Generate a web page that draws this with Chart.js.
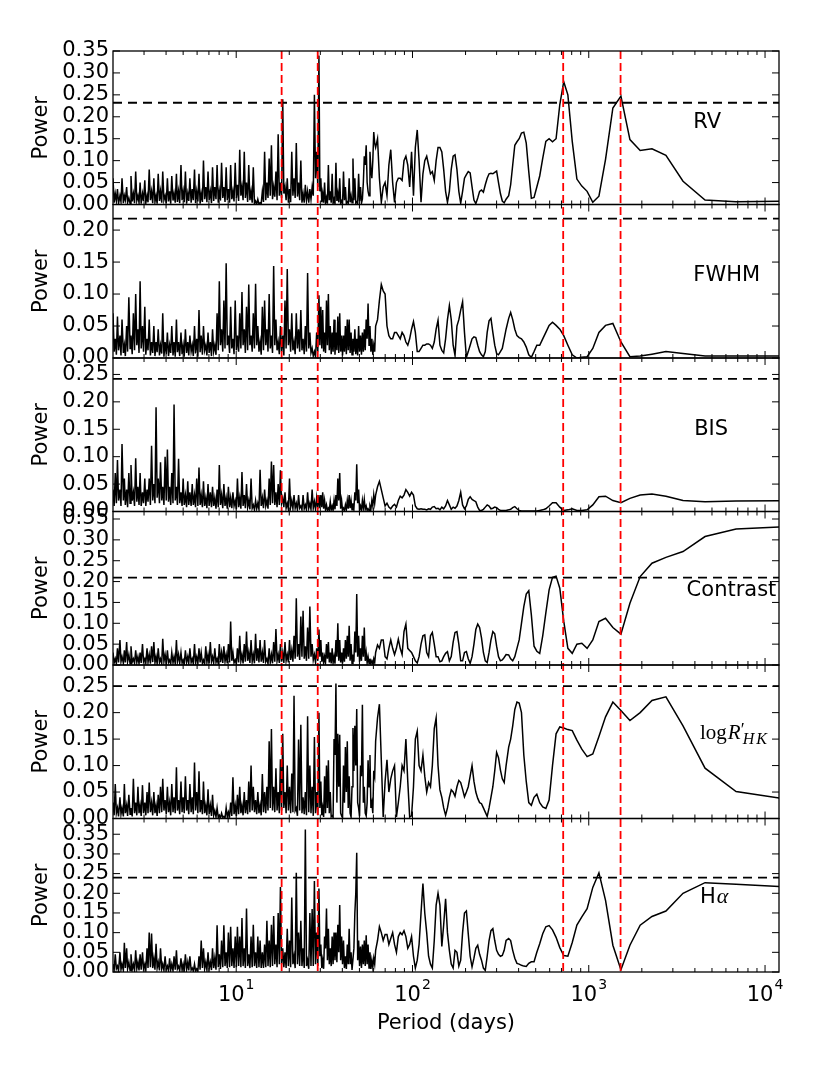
<!doctype html>
<html>
<head>
<meta charset="UTF-8">
<title>Periodograms</title>
<script src="https://cdn.jsdelivr.net/npm/chart.js@4.4.1/dist/chart.umd.min.js"></script>
<style>
  html, body { margin: 0; padding: 0; background: #fff; }
  #wrap { width: 830px; height: 1066px; }
</style>
</head>
<body>
<div id="wrap"><canvas id="pgram" width="830" height="1066"></canvas></div>
<script>
// period grid (days), shared by all six periodograms
const period = [
  2.00,2.03,2.06,2.09,2.12,2.15,2.19,2.22,2.25,2.29,2.32,2.35,2.39,2.42,2.46,2.50,2.53,2.57,2.61,2.65,
  2.69,2.73,2.77,2.81,2.85,2.89,2.94,2.98,3.03,3.07,3.12,3.16,3.21,3.26,3.31,3.36,3.41,3.46,3.51,3.56,
  3.61,3.67,3.72,3.78,3.83,3.89,3.95,4.01,4.07,4.13,4.19,4.25,4.31,4.38,4.44,4.51,4.58,4.64,4.71,4.78,
  4.86,4.93,5.00,5.07,5.15,5.23,5.31,5.38,5.46,5.55,5.63,5.71,5.80,5.88,5.97,6.06,6.15,6.24,6.33,6.43,
  6.52,6.62,6.72,6.82,6.92,7.02,7.13,7.24,7.34,7.45,7.56,7.68,7.79,7.91,8.02,8.14,8.26,8.39,8.51,8.64,
  8.77,8.90,9.03,9.17,9.30,9.44,9.58,9.72,9.87,10.02,10.16,10.32,10.47,10.63,10.78,10.94,11.11,11.27,11.44,11.61,
  11.78,11.96,12.14,12.32,12.50,12.69,12.88,13.07,13.26,13.46,13.66,13.86,14.07,14.28,14.49,14.71,14.93,15.15,15.38,15.60,
  15.84,16.07,16.31,16.55,16.80,17.05,17.30,17.56,17.82,18.09,18.36,18.63,18.91,19.19,19.48,19.77,20.06,20.36,20.66,20.97,
  21.28,21.60,21.92,22.25,22.58,22.91,23.26,23.60,23.95,24.31,24.67,25.04,25.41,25.79,26.17,26.56,26.96,27.36,27.77,28.18,
  28.60,29.03,29.46,
  29.83,30.20,30.58,30.95,31.33,31.72,32.11,32.52,32.92,33.33,33.74,34.16,34.58,35.02,35.45,35.89,36.34,36.79,37.25,37.71,
  38.18,38.65,39.13,39.62,40.11,40.61,41.11,41.63,42.15,42.67,43.20,43.73,44.27,44.83,45.39,45.95,46.52,47.10,47.68,48.27,
  48.87,49.48,50.09,50.72,51.35,51.98,52.63,53.28,53.94,54.62,55.30,55.98,56.68,57.38,58.09,58.82,59.55,60.29,61.04,61.79,
  63.34,64.92,66.55,68.21,69.92,71.66,73.46,75.29,77.17,79.10,81.08,83.11,85.19,87.32,89.50,91.74,94.03,96.38,98.79,101.3,
  103.8,106.4,109.0,111.8,114.6,117.4,120.4,123.4,126.5,129.6,132.9,136.2,139.6,143.1,146.7,150.3,154.1,157.9,161.9,165.9,
  170.1,174.3,178.7,183.2,187.7,192.4,197.2,202.2,207.2,212.4,217.7,223.2,228.7,234.5,240.3,246.3,252.5,258.8,265.3,271.9,
  278.7,285.7,292.8,300.1,307.6,315.3,323.2,331.3,339.6,
  351.3,360.5,370.3,380.6,391.4,402.9,415.2,428.1,441.9,456.7,472.4,489.3,507.4,526.9,548.0,570.8,595.7,622.7,652.4,685.0,
  721.1,761.1,805.9,856.3,913.3,978.6,1054,1142,1245,1370,1522,1712,1957,2283,2740,3425,4567,6850,13700
];

const rv = [
  0.06,0.004,0.025,0.008,0.035,0.002,0.02,0.006,0.06,0.003,0.02,0.01,0.04,0.004,0.015,0.002,0.065,0.007,0.025,0.003,
  0.075,0.009,0.02,0.004,0.05,0.002,0.025,0.008,0.055,0.003,0.02,0.005,0.08,0.01,0.03,0.003,0.06,0.006,0.02,0.002,
  0.07,0.008,0.03,0.004,0.075,0.01,0.02,0.003,0.06,0.007,0.03,0.002,0.065,0.009,0.025,0.004,0.07,0.006,0.03,0.003,
  0.09,0.01,0.03,0.005,0.075,0.002,0.025,0.008,0.06,0.004,0.035,0.01,0.08,0.003,0.03,0.007,0.07,0.002,0.025,0.006,
  0.1,0.012,0.04,0.005,0.075,0.01,0.03,0.003,0.085,0.008,0.04,0.012,0.09,0.004,0.03,0.009,0.095,0.015,0.04,0.006,
  0.085,0.01,0.035,0.004,0.09,0.012,0.03,0.007,0.095,0.015,0.045,0.008,0.125,0.02,0.04,0.01,0.12,0.015,0.05,0.006,
  0.09,0.01,0.03,0.004,0.085,0.002,0.008,0.001,0.012,0.001,0.004,0.002,0.03,0.006,0.12,0.01,0.05,0.015,0.105,0.02,
  0.135,0.012,0.04,0.018,0.075,0.01,0.16,0.02,0.05,0.015,0.24,0.025,0.04,0.01,0.06,0.004,0.035,0.005,0.12,0.02,
  0.06,0.015,0.14,0.018,0.05,0.01,0.1,0.004,0.025,0.004,0.045,0.01,0.03,0.004,0.035,0.012,0.04,0.02,0.25,0.06,
  0.12,0.04,0.34,
  0.03,0.06,0.005,0.025,0.004,0.05,0.003,0.015,0.002,0.09,0.01,0.03,0.004,0.07,0.003,0.012,0.002,0.095,0.008,0.025,
  0.005,0.06,0.002,0.008,0.003,0.075,0.01,0.04,0.002,0.006,0.003,0.06,0.005,0.02,0.004,0.105,0.01,0.06,0.003,0.006,
  0.002,0.07,0.008,0.04,0.003,0.012,0.05,0.11,0.09,0.135,0.05,0.03,0.02,0.12,0.08,0.06,0.1,0.165,0.14,0.13,
  0.15,0.06,0.005,0.04,0.05,0.02,0.09,0.125,0.05,0.005,0.05,0.06,0.06,0.055,0.1,0.11,0.09,0.04,0.12,0.02,
  0.13,0.17,0.1,0.005,0.07,0.1,0.11,0.09,0.07,0.075,0.055,0.1,0.13,0.13,0.12,0.08,0.03,0.005,0.03,0.08,
  0.11,0.113,0.08,0.03,0.003,0.03,0.06,0.068,0.075,0.072,0.04,0.01,0.002,0.015,0.03,0.033,0.028,0.045,0.06,0.07,
  0.071,0.07,0.073,0.076,0.05,0.025,0.008,0.004,0.012,
  0.02,0.045,0.09,0.135,0.143,0.15,0.163,0.165,0.14,0.075,0.014,0.016,0.04,0.065,0.105,0.144,0.15,0.143,0.15,0.228,
  0.28,0.25,0.144,0.058,0.042,0.03,0.005,0.019,0.103,0.22,0.247,0.148,0.123,0.127,0.112,0.053,0.01,0.006,0.008
];

const fwhm = [
  0.07,0.01,0.03,0.005,0.065,0.012,0.035,0.004,0.06,0.008,0.02,0.003,0.05,0.01,0.095,0.015,0.035,0.006,0.07,0.012,
  0.1,0.02,0.045,0.008,0.12,0.015,0.05,0.01,0.08,0.005,0.03,0.012,0.06,0.004,0.025,0.008,0.05,0.003,0.025,0.009,
  0.045,0.004,0.02,0.007,0.07,0.002,0.025,0.006,0.04,0.003,0.02,0.008,0.05,0.004,0.025,0.002,0.06,0.009,0.025,0.003,
  0.04,0.006,0.02,0.002,0.045,0.008,0.025,0.004,0.035,0.01,0.02,0.003,0.05,0.007,0.03,0.002,0.075,0.009,0.035,0.005,
  0.05,0.012,0.02,0.004,0.04,0.008,0.025,0.003,0.045,0.01,0.02,0.005,0.07,0.012,0.12,0.02,0.045,0.01,0.09,0.015,
  0.148,0.02,0.035,0.008,0.08,0.015,0.03,0.006,0.09,0.012,0.035,0.01,0.07,0.015,0.103,0.02,0.045,0.008,0.08,0.012,
  0.115,0.02,0.035,0.01,0.07,0.015,0.116,0.02,0.05,0.01,0.025,0.005,0.08,0.012,0.09,0.02,0.045,0.01,0.1,0.015,
  0.035,0.008,0.144,0.02,0.06,0.012,0.025,0.006,0.05,0.01,0.035,0.004,0.09,0.015,0.139,0.02,0.045,0.01,0.07,0.012,
  0.025,0.006,0.07,0.015,0.045,0.01,0.075,0.012,0.03,0.006,0.05,0.01,0.133,0.015,0.04,0.008,0.015,0.003,0.01,0.002,
  0.04,0.01,0.098,
  0.02,0.08,0.015,0.075,0.01,0.04,0.008,0.09,0.02,0.1,0.012,0.05,0.006,0.04,0.01,0.06,0.005,0.04,0.012,0.065,
  0.008,0.07,0.01,0.035,0.004,0.035,0.01,0.05,0.006,0.06,0.012,0.06,0.008,0.04,0.005,0.03,0.01,0.045,0.006,0.03,
  0.004,0.05,0.01,0.035,0.005,0.04,0.01,0.045,0.012,0.06,0.03,0.085,0.02,0.05,0.01,0.03,0.005,0.02,0.01,0.05,
  0.06,0.09,0.115,0.105,0.1,0.05,0.035,0.03,0.03,0.04,0.04,0.035,0.03,0.04,0.035,0.025,0.02,0.03,0.045,0.057,
  0.04,0.01,0.01,0.015,0.02,0.02,0.022,0.022,0.02,0.015,0.025,0.045,0.059,0.02,0.012,0.008,0.03,0.06,0.082,0.06,
  0.02,0.004,0.05,0.06,0.075,0.088,0.04,0.001,0.01,0.02,0.03,0.033,0.032,0.02,0.01,0.005,0.002,0.01,0.04,0.058,
  0.062,0.04,0.02,0.007,0.005,0.01,0.015,0.03,0.045,
  0.062,0.071,0.06,0.045,0.035,0.032,0.03,0.025,0.017,0.005,0.001,0.01,0.02,0.02,0.03,0.04,0.051,0.056,0.051,0.045,
  0.035,0.02,0.005,0.0,0.001,0.002,0.015,0.04,0.051,0.054,0.025,0.002,0.003,0.006,0.01,0.007,0.003,0.003,0.003
];

const bis = [
  0.04,0.01,0.07,0.015,0.094,0.02,0.04,0.01,0.123,0.02,0.06,0.012,0.04,0.008,0.07,0.015,0.085,0.02,0.035,0.01,
  0.097,0.018,0.045,0.012,0.07,0.01,0.035,0.015,0.06,0.01,0.04,0.018,0.06,0.012,0.12,0.02,0.05,0.015,0.19,0.025,
  0.06,0.015,0.09,0.02,0.045,0.012,0.1,0.02,0.113,0.018,0.045,0.012,0.07,0.015,0.195,0.02,0.045,0.012,0.096,0.015,
  0.035,0.01,0.06,0.012,0.03,0.008,0.055,0.012,0.035,0.01,0.05,0.012,0.03,0.008,0.06,0.01,0.08,0.012,0.03,0.008,
  0.055,0.01,0.025,0.006,0.05,0.01,0.035,0.008,0.045,0.01,0.025,0.005,0.04,0.008,0.085,0.012,0.03,0.006,0.05,0.01,
  0.025,0.005,0.045,0.008,0.025,0.006,0.035,0.01,0.02,0.004,0.06,0.008,0.025,0.005,0.072,0.01,0.03,0.006,0.05,0.008,
  0.02,0.004,0.06,0.006,0.012,0.003,0.02,0.005,0.015,0.004,0.076,0.01,0.025,0.006,0.04,0.01,0.02,0.005,0.06,0.012,
  0.091,0.015,0.085,0.012,0.035,0.008,0.05,0.012,0.075,0.015,0.025,0.008,0.035,0.006,0.015,0.004,0.06,0.008,0.02,0.005,
  0.03,0.006,0.015,0.003,0.03,0.006,0.01,0.003,0.03,0.005,0.012,0.003,0.035,0.006,0.015,0.004,0.04,0.006,0.018,0.004,
  0.025,0.005,0.03,
  0.006,0.03,0.008,0.035,0.005,0.02,0.003,0.012,0.002,0.006,0.002,0.018,0.003,0.01,0.002,0.02,0.004,0.03,0.01,0.06,
  0.02,0.07,0.005,0.02,0.002,0.006,0.002,0.012,0.003,0.02,0.005,0.03,0.006,0.02,0.003,0.015,0.005,0.035,0.02,0.086,
  0.015,0.04,0.003,0.01,0.002,0.02,0.006,0.022,0.004,0.01,0.002,0.005,0.002,0.01,0.004,0.02,0.01,0.03,0.015,0.03,
  0.045,0.055,0.04,0.025,0.01,0.015,0.008,0.005,0.01,0.013,0.008,0.02,0.028,0.025,0.03,0.04,0.035,0.028,0.035,0.03,
  0.01,0.005,0.004,0.005,0.004,0.004,0.003,0.005,0.004,0.008,0.009,0.005,0.006,0.003,0.008,0.005,0.01,0.02,0.012,0.004,
  0.008,0.006,0.01,0.02,0.035,0.012,0.005,0.01,0.022,0.027,0.022,0.02,0.018,0.008,0.002,0.002,0.004,0.008,0.012,0.01,
  0.005,0.006,0.008,0.007,0.004,0.002,0.002,0.002,0.002,
  0.003,0.004,0.007,0.009,0.005,0.002,0.001,0.001,0.001,0.001,0.001,0.001,0.001,0.002,0.003,0.005,0.01,0.016,0.016,0.008,
  0.002,0.003,0.005,0.002,0.002,0.003,0.012,0.027,0.028,0.02,0.016,0.024,0.03,0.032,0.028,0.02,0.018,0.019,0.02
];

const contrast = [
  0.03,0.005,0.015,0.003,0.04,0.006,0.06,0.008,0.02,0.004,0.035,0.006,0.055,0.008,0.025,0.003,0.045,0.007,0.015,0.004,
  0.035,0.006,0.02,0.003,0.03,0.005,0.05,0.008,0.015,0.004,0.04,0.006,0.025,0.003,0.045,0.007,0.055,0.005,0.02,0.003,
  0.04,0.006,0.015,0.004,0.063,0.008,0.025,0.004,0.035,0.006,0.012,0.002,0.03,0.005,0.02,0.003,0.06,0.008,0.025,0.004,
  0.03,0.005,0.012,0.002,0.035,0.006,0.02,0.004,0.04,0.006,0.015,0.003,0.05,0.007,0.02,0.004,0.04,0.006,0.03,0.004,
  0.012,0.002,0.045,0.006,0.025,0.004,0.055,0.008,0.02,0.004,0.04,0.006,0.015,0.003,0.05,0.007,0.03,0.005,0.045,0.008,
  0.025,0.004,0.05,0.006,0.104,0.01,0.03,0.005,0.012,0.003,0.04,0.006,0.07,0.01,0.025,0.004,0.05,0.008,0.08,0.01,
  0.03,0.005,0.06,0.008,0.025,0.004,0.075,0.01,0.04,0.006,0.06,0.008,0.03,0.005,0.06,0.008,0.015,0.003,0.04,0.006,
  0.025,0.004,0.055,0.008,0.086,0.01,0.025,0.005,0.05,0.008,0.03,0.005,0.055,0.01,0.025,0.006,0.06,0.012,0.035,0.008,
  0.07,0.015,0.16,0.02,0.05,0.012,0.116,0.02,0.13,0.015,0.045,0.01,0.09,0.015,0.14,0.02,0.05,0.012,0.025,0.006,
  0.04,0.01,0.085,
  0.02,0.06,0.008,0.03,0.004,0.02,0.006,0.05,0.015,0.055,0.006,0.03,0.004,0.04,0.005,0.02,0.003,0.06,0.02,0.1,
  0.01,0.06,0.006,0.03,0.004,0.04,0.008,0.06,0.015,0.07,0.02,0.094,0.01,0.05,0.004,0.025,0.008,0.08,0.03,0.17,
  0.02,0.07,0.008,0.04,0.01,0.07,0.02,0.09,0.01,0.03,0.005,0.02,0.004,0.015,0.003,0.01,0.003,0.015,0.006,0.03,
  0.048,0.04,0.06,0.06,0.02,0.015,0.04,0.06,0.04,0.025,0.04,0.062,0.04,0.025,0.08,0.098,0.04,0.035,0.03,0.02,
  0.01,0.005,0.02,0.05,0.07,0.072,0.03,0.02,0.07,0.078,0.05,0.02,0.02,0.008,0.01,0.02,0.028,0.032,0.01,0.02,
  0.055,0.078,0.08,0.05,0.01,0.01,0.03,0.032,0.015,0.004,0.02,0.05,0.085,0.098,0.09,0.065,0.03,0.01,0.006,0.03,
  0.06,0.08,0.075,0.045,0.02,0.01,0.012,0.018,0.025,
  0.024,0.015,0.01,0.02,0.04,0.06,0.1,0.14,0.17,0.178,0.12,0.045,0.033,0.028,0.07,0.125,0.18,0.21,0.213,0.184,
  0.105,0.04,0.028,0.05,0.052,0.04,0.06,0.104,0.112,0.09,0.074,0.148,0.212,0.244,0.258,0.272,0.308,0.326,0.332
];

const rhk = [
  0.03,0.006,0.065,0.01,0.02,0.004,0.04,0.008,0.02,0.004,0.065,0.01,0.025,0.005,0.045,0.008,0.02,0.004,0.075,0.01,
  0.03,0.006,0.06,0.01,0.025,0.005,0.063,0.01,0.03,0.006,0.05,0.01,0.068,0.012,0.03,0.006,0.05,0.01,0.025,0.005,
  0.045,0.01,0.06,0.012,0.075,0.015,0.035,0.008,0.06,0.012,0.03,0.006,0.065,0.012,0.04,0.01,0.097,0.015,0.035,0.008,
  0.07,0.012,0.04,0.01,0.08,0.015,0.035,0.008,0.065,0.012,0.04,0.008,0.106,0.015,0.05,0.01,0.089,0.012,0.035,0.008,
  0.07,0.01,0.025,0.006,0.055,0.008,0.025,0.005,0.045,0.006,0.015,0.003,0.02,0.002,0.006,0.001,0.01,0.002,0.004,0.001,
  0.02,0.003,0.012,0.004,0.03,0.005,0.078,0.008,0.025,0.005,0.045,0.008,0.06,0.01,0.025,0.006,0.05,0.01,0.035,0.008,
  0.07,0.012,0.1,0.015,0.06,0.012,0.035,0.008,0.05,0.01,0.025,0.006,0.084,0.012,0.05,0.01,0.06,0.015,0.146,0.02,
  0.169,0.015,0.06,0.012,0.095,0.015,0.05,0.01,0.112,0.015,0.16,0.02,0.05,0.01,0.1,0.015,0.06,0.01,0.085,0.012,
  0.232,0.015,0.02,0.005,0.149,0.015,0.177,0.01,0.04,0.008,0.05,0.006,0.193,0.012,0.1,0.01,0.06,0.005,0.154,0.01,
  0.05,0.006,0.2,
  0.02,0.07,0.006,0.02,0.003,0.08,0.01,0.1,0.02,0.11,0.01,0.05,0.003,0.005,0.002,0.15,0.12,0.255,0.03,0.16,
  0.06,0.158,0.01,0.005,0.002,0.1,0.03,0.135,0.05,0.146,0.02,0.08,0.01,0.003,0.06,0.171,0.09,0.175,0.1,0.207,
  0.03,0.02,0.004,0.1,0.08,0.215,0.03,0.06,0.01,0.005,0.03,0.11,0.06,0.12,0.02,0.03,0.01,0.09,0.08,0.146,
  0.19,0.216,0.11,0.003,0.07,0.111,0.05,0.075,0.09,0.1,0.003,0.03,0.06,0.1,0.09,0.15,0.07,0.003,0.005,0.06,
  0.15,0.165,0.1,0.09,0.12,0.08,0.05,0.068,0.06,0.1,0.17,0.19,0.1,0.054,0.04,0.02,0.006,0.02,0.04,0.054,
  0.05,0.042,0.06,0.072,0.068,0.055,0.041,0.05,0.06,0.08,0.1,0.07,0.05,0.038,0.03,0.028,0.02,0.012,0.004,0.02,
  0.04,0.06,0.09,0.125,0.115,0.092,0.075,0.068,0.1,
  0.135,0.15,0.175,0.206,0.22,0.218,0.2,0.12,0.07,0.03,0.025,0.04,0.046,0.03,0.022,0.019,0.035,0.1,0.16,0.173,
  0.171,0.168,0.166,0.148,0.131,0.117,0.122,0.155,0.192,0.22,0.204,0.185,0.2,0.223,0.23,0.175,0.095,0.051,0.036
];

const halpha = [
  0.02,0.004,0.045,0.008,0.015,0.003,0.05,0.006,0.02,0.004,0.074,0.01,0.06,0.008,0.025,0.004,0.045,0.006,0.02,0.003,
  0.055,0.008,0.025,0.004,0.045,0.006,0.05,0.008,0.02,0.004,0.06,0.01,0.1,0.012,0.098,0.01,0.035,0.006,0.072,0.01,
  0.025,0.004,0.06,0.008,0.02,0.004,0.04,0.006,0.015,0.003,0.035,0.005,0.02,0.003,0.04,0.006,0.055,0.008,0.015,0.003,
  0.035,0.005,0.02,0.003,0.045,0.006,0.025,0.004,0.04,0.005,0.01,0.002,0.02,0.003,0.008,0.002,0.04,0.006,0.08,0.01,
  0.06,0.008,0.025,0.005,0.05,0.008,0.025,0.005,0.06,0.01,0.035,0.006,0.119,0.012,0.045,0.008,0.08,0.012,0.119,0.015,
  0.05,0.01,0.1,0.012,0.115,0.015,0.06,0.01,0.09,0.012,0.115,0.015,0.09,0.012,0.137,0.015,0.06,0.01,0.161,0.015,
  0.045,0.01,0.09,0.012,0.12,0.015,0.05,0.01,0.09,0.012,0.08,0.01,0.05,0.01,0.07,0.012,0.13,0.015,0.08,0.012,
  0.12,0.015,0.142,0.02,0.07,0.012,0.15,0.02,0.216,0.02,0.06,0.012,0.05,0.01,0.11,0.015,0.08,0.012,0.189,0.02,
  0.04,0.01,0.252,0.02,0.1,0.015,0.13,0.015,0.06,0.01,0.362,0.015,0.03,0.008,0.15,0.015,0.16,0.015,0.231,0.02,
  0.1,0.015,0.212,
  0.04,0.07,0.01,0.03,0.008,0.09,0.06,0.161,0.03,0.11,0.02,0.06,0.015,0.09,0.02,0.1,0.03,0.1,0.025,0.12,
  0.05,0.17,0.03,0.09,0.02,0.08,0.01,0.04,0.008,0.07,0.02,0.11,0.02,0.05,0.005,0.005,0.06,0.15,0.2,0.303,
  0.03,0.08,0.015,0.065,0.01,0.07,0.02,0.08,0.015,0.093,0.02,0.07,0.01,0.05,0.008,0.03,0.012,0.035,0.02,0.055,
  0.08,0.115,0.1,0.08,0.095,0.095,0.07,0.085,0.1,0.07,0.05,0.09,0.1,0.095,0.105,0.09,0.06,0.07,0.09,0.04,
  0.01,0.03,0.07,0.15,0.225,0.15,0.1,0.04,0.02,0.01,0.08,0.17,0.2,0.17,0.065,0.12,0.186,0.1,0.055,0.02,
  0.01,0.055,0.05,0.015,0.03,0.1,0.15,0.155,0.097,0.04,0.013,0.035,0.06,0.068,0.045,0.03,0.01,0.004,0.04,0.08,
  0.105,0.11,0.08,0.055,0.045,0.04,0.042,0.055,0.08,
  0.085,0.08,0.055,0.035,0.022,0.02,0.017,0.015,0.014,0.022,0.026,0.026,0.05,0.072,0.097,0.115,0.118,0.107,0.088,0.062,
  0.042,0.04,0.075,0.119,0.14,0.161,0.215,0.252,0.182,0.068,0.006,0.068,0.119,0.141,0.155,0.2,0.227,0.223,0.216
];

const series = [rv, fwhm, bis, contrast, rhk, halpha];
const powerMax = [0.35, 0.24, 0.28, 0.368, 0.29, 0.39];
const fapLevel = [0.232, 0.218, 0.242, 0.2095, 0.25, 0.24];
const powerTicks = [0, 0.05, 0.10, 0.15, 0.20, 0.25, 0.30, 0.35];
const xTicks = [10, 100, 1000, 10000];
const markPeriods = [18.1, 29.0, 716, 1515];
const periodMin = 2, periodMax = 12000;
// label anchor [period, power]: left edge and text baseline inside each panel
const labelPos = [[3920, 0.174], [3920, 0.12], [3960, 0.139], [3590, 0.166], [4275, 0.150], [4275, 0.1754]];

const FONT = '"DejaVu Sans"';
const SERIF = '"Liberation Serif"';

const datasets = [];
series.forEach(function(s, p){
  datasets.push({
    data: period.map(function(x, i){ return {x: x, y: s[i]}; }),
    yAxisID: 'y' + p,
    borderColor: '#000', borderWidth: 1.5,
    pointRadius: 0, tension: 0, fill: false
  });
  datasets.push({
    data: [{x: periodMin, y: fapLevel[p]}, {x: periodMax, y: fapLevel[p]}],
    yAxisID: 'y' + p,
    borderColor: '#000', borderWidth: 1.8, borderDash: [9, 6],
    pointRadius: 0, fill: false
  });
});

const scales = {
  x: {
    type: 'logarithmic', position: 'bottom', min: periodMin, max: periodMax,
    afterBuildTicks: function(s){ s.ticks = xTicks.map(function(v){ return {value: v}; }); },
    afterFit: function(s){ s.height = 66; },
    grid: {display: false, drawTicks: false}, border: {display: false},
    ticks: {display: false},
    title: {display: true, text: 'Period (days)', color: '#000', font: {family: 'DejaVu Sans', size: 21}, padding: {top: 0, bottom: 2}}
  }
};
// stacked axes are laid out last-first, so add the bottom panel first
for (let p = powerMax.length - 1; p >= 0; p--) {
  const m = powerMax[p];
  scales['y' + p] = {
    type: 'linear', position: 'left', stack: 'panels', stackWeight: 1,
    min: 0, max: m,
    afterBuildTicks: function(s){
      s.ticks = powerTicks.filter(function(v){ return v <= m + 1e-9; }).map(function(v){ return {value: v}; });
    },
    afterFit: function(s){ s.width = 87; },
    grid: {display: false, drawTicks: false}, border: {display: false},
    ticks: {
      autoSkip: false, padding: 4, color: '#000', font: {family: 'DejaVu Sans', size: 21},
      callback: function(v){ return v.toFixed(2); }
    },
    title: {display: true, text: 'Power', color: '#000', font: {family: 'DejaVu Sans', size: 21}, padding: {top: 3, bottom: 0}}
  };
}

// frames, inward ticks, red period markers, panel and decade labels
const decorations = {
  id: 'decorations',
  afterDatasetsDraw: function(chart){
    const ctx = chart.ctx, xs = chart.scales.x, area = chart.chartArea;
    ctx.save();

    // red dashed markers
    ctx.strokeStyle = '#ff0000'; ctx.lineWidth = 1.8; ctx.setLineDash([8, 4]);
    markPeriods.forEach(function(pd){
      const px = xs.getPixelForValue(pd);
      ctx.beginPath(); ctx.moveTo(px, area.top); ctx.lineTo(px, area.bottom); ctx.stroke();
    });
    ctx.setLineDash([]);

    const minor = [];
    for (let e = 0; e <= 4; e++) {
      for (let m = 2; m <= 9; m++) {
        const v = m * Math.pow(10, e);
        if (v > periodMin && v < periodMax) minor.push(v);
      }
    }

    for (let p = 0; p < series.length; p++) {
      const ys = chart.scales['y' + p];
      const top = ys.top, bot = ys.bottom;
      ctx.strokeStyle = '#000'; ctx.lineWidth = 1;
      ctx.beginPath();
      xTicks.forEach(function(v){
        const px = xs.getPixelForValue(v);
        if (px > area.left && px < area.right) {
          ctx.moveTo(px, bot); ctx.lineTo(px, bot - 7);
          ctx.moveTo(px, top); ctx.lineTo(px, top + 7);
        }
      });
      minor.forEach(function(v){
        const px = xs.getPixelForValue(v);
        ctx.moveTo(px, bot); ctx.lineTo(px, bot - 4);
        ctx.moveTo(px, top); ctx.lineTo(px, top + 4);
      });
      ys.ticks.forEach(function(t){
        const py = ys.getPixelForValue(t.value);
        ctx.moveTo(area.left, py); ctx.lineTo(area.left + 7, py);
        ctx.moveTo(area.right, py); ctx.lineTo(area.right - 7, py);
      });
      ctx.stroke();

      ctx.lineWidth = 1.3;
      ctx.strokeRect(area.left, top, area.right - area.left, bot - top);

      // panel label
      const lx = xs.getPixelForValue(labelPos[p][0]);
      const ly = ys.getPixelForValue(labelPos[p][1]);
      ctx.fillStyle = '#000'; ctx.textBaseline = 'alphabetic'; ctx.textAlign = 'left';
      if (p === 4) {
        let cx = lx;
        ctx.font = '21px ' + SERIF;
        ctx.fillText('log', cx, ly); cx += ctx.measureText('log').width + 1;
        ctx.font = 'italic 21px ' + SERIF;
        ctx.fillText('R', cx, ly); cx += ctx.measureText('R').width;
        ctx.font = '18px ' + SERIF;
        ctx.fillText('\u2032', cx, ly - 3);
        ctx.font = 'italic 16px ' + SERIF;
        ctx.fillText('H', cx + 2, ly + 5);
        ctx.fillText('K', cx + 2 + ctx.measureText('H').width + 2, ly + 5);
      } else if (p === 5) {
        ctx.font = '21px ' + FONT;
        ctx.fillText('H', lx, ly);
        const w = ctx.measureText('H').width;
        ctx.font = 'italic 22px ' + SERIF;
        ctx.fillText('\u03b1', lx + w + 1, ly);
      } else {
        ctx.font = '21px ' + FONT;
        ctx.fillText(['RV', 'FWHM', 'BIS', 'Contrast'][p], lx, ly);
      }
    }

    // decade labels 10^n under the bottom panel
    ctx.fillStyle = '#000'; ctx.textBaseline = 'alphabetic'; ctx.textAlign = 'left';
    xTicks.forEach(function(v){
      const px = xs.getPixelForValue(v);
      const ex = String(Math.round(Math.log10(v)));
      ctx.font = '21px ' + FONT; const w1 = ctx.measureText('10').width;
      ctx.font = '14px ' + FONT; const w2 = ctx.measureText(ex).width;
      const x0 = px - (w1 + w2 + 1) / 2;
      ctx.font = '21px ' + FONT; ctx.fillText('10', x0, area.bottom + 29);
      ctx.font = '14px ' + FONT; ctx.fillText(ex, x0 + w1 + 1, area.bottom + 17);
    });
    ctx.restore();
  }
};

new Chart(document.getElementById('pgram'), {
  type: 'line',
  data: {datasets: datasets},
  options: {
    responsive: false,
    animation: false,
    layout: {padding: {left: 26, right: 51, top: 51, bottom: 28}},
    plugins: {legend: {display: false}, tooltip: {enabled: false}},
    scales: scales
  },
  plugins: [decorations]
});
</script>
</body>
</html>
